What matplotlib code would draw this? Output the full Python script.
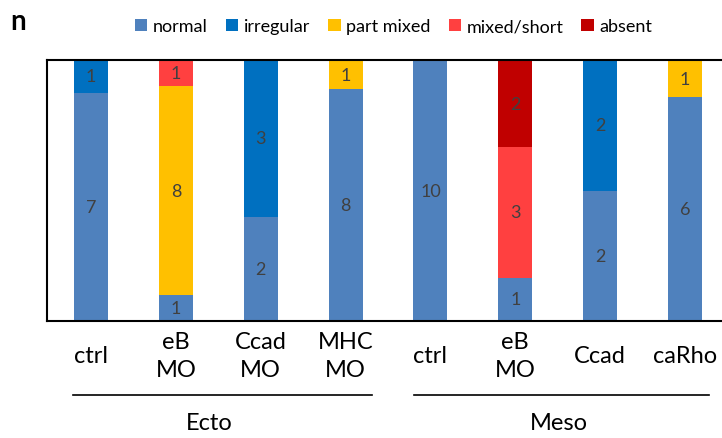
import numpy as np
import matplotlib
matplotlib.use('Agg')
import matplotlib.pyplot as plt
from matplotlib.transforms import blended_transform_factory

plt.rcParams['font.family'] = ['Lato', 'DejaVu Sans']

# Данные
categories = ['ctrl', 'eB\nMO', 'Ccad\nMO', 'MHC\nMO', 'ctrl', 'eB\nMO', 'Ccad', 'caRho']
series = ['normal', 'irregular', 'part mixed', 'mixed/short', 'absent']
normal = [7, 1, 2, 8, 10, 1, 2, 6]
irregular = [1, 0, 3, 0, 0, 0, 2, 0]
part_mixed = [0, 8, 0, 1, 0, 0, 0, 1]
mixed_short = [0, 1, 0, 0, 0, 3, 0, 0]
absent = [0, 0, 0, 0, 0, 2, 0, 0]
groups = ['Ecto', 'Meso']
colors = ['#4F81BD', '#0070C0', '#FFC000', '#FF4040', '#C00000']

counts = np.array([normal, irregular, part_mixed, mixed_short, absent], dtype=float)
totals = counts.sum(axis=0)
frac = counts / totals

fig = plt.figure(figsize=(7.22, 4.39), dpi=100)
ax = fig.add_axes([0.0651, 0.2665, 0.9446, 0.5945])

x = np.arange(len(categories))
bottom = np.zeros(len(categories))
for name, fr, cnt, col in zip(series, frac, counts, colors):
    bars = ax.bar(x, fr, 0.4, bottom=bottom, color=col, label=name)
    labels = [str(int(c)) if c > 0 else '' for c in cnt]
    ax.bar_label(bars, labels=labels, label_type='center', color='#404040', fontsize=13)
    bottom += fr

ax.set_xlim(-0.52, 7.52)
ax.set_ylim(0, 1)
ax.set_yticks([])
ax.set_xticks(x)
ax.set_xticklabels(categories, fontsize=17, linespacing=1.4)
ax.tick_params(axis='x', length=0, pad=25)
for lab in ax.get_xticklabels():
    lab.set_va('center')
for s in ax.spines.values():
    s.set_linewidth(1.5)
    s.set_color('black')

# Группы
tr = blended_transform_factory(ax.transData, ax.transAxes)
ax.plot([-0.21, 3.31], [-0.284, -0.284], color='black', lw=1.2, transform=tr, clip_on=False)
ax.plot([3.81, 7.28], [-0.284, -0.284], color='black', lw=1.2, transform=tr, clip_on=False)
ax.text(1.39, -0.39, groups[0], transform=tr, ha='center', va='center', fontsize=17)
ax.text(5.52, -0.39, groups[1], transform=tr, ha='center', va='center', fontsize=17)

fig.text(0.014, 0.95, 'n', fontsize=20, fontweight='bold', va='center')
fig.legend(loc='center', bbox_to_anchor=(0.545, 0.938), ncol=5, frameon=False,
           fontsize=13, handlelength=0.7, handleheight=0.7, handletextpad=0.3,
           columnspacing=1.0)

fig.savefig('out.png', dpi=100)
